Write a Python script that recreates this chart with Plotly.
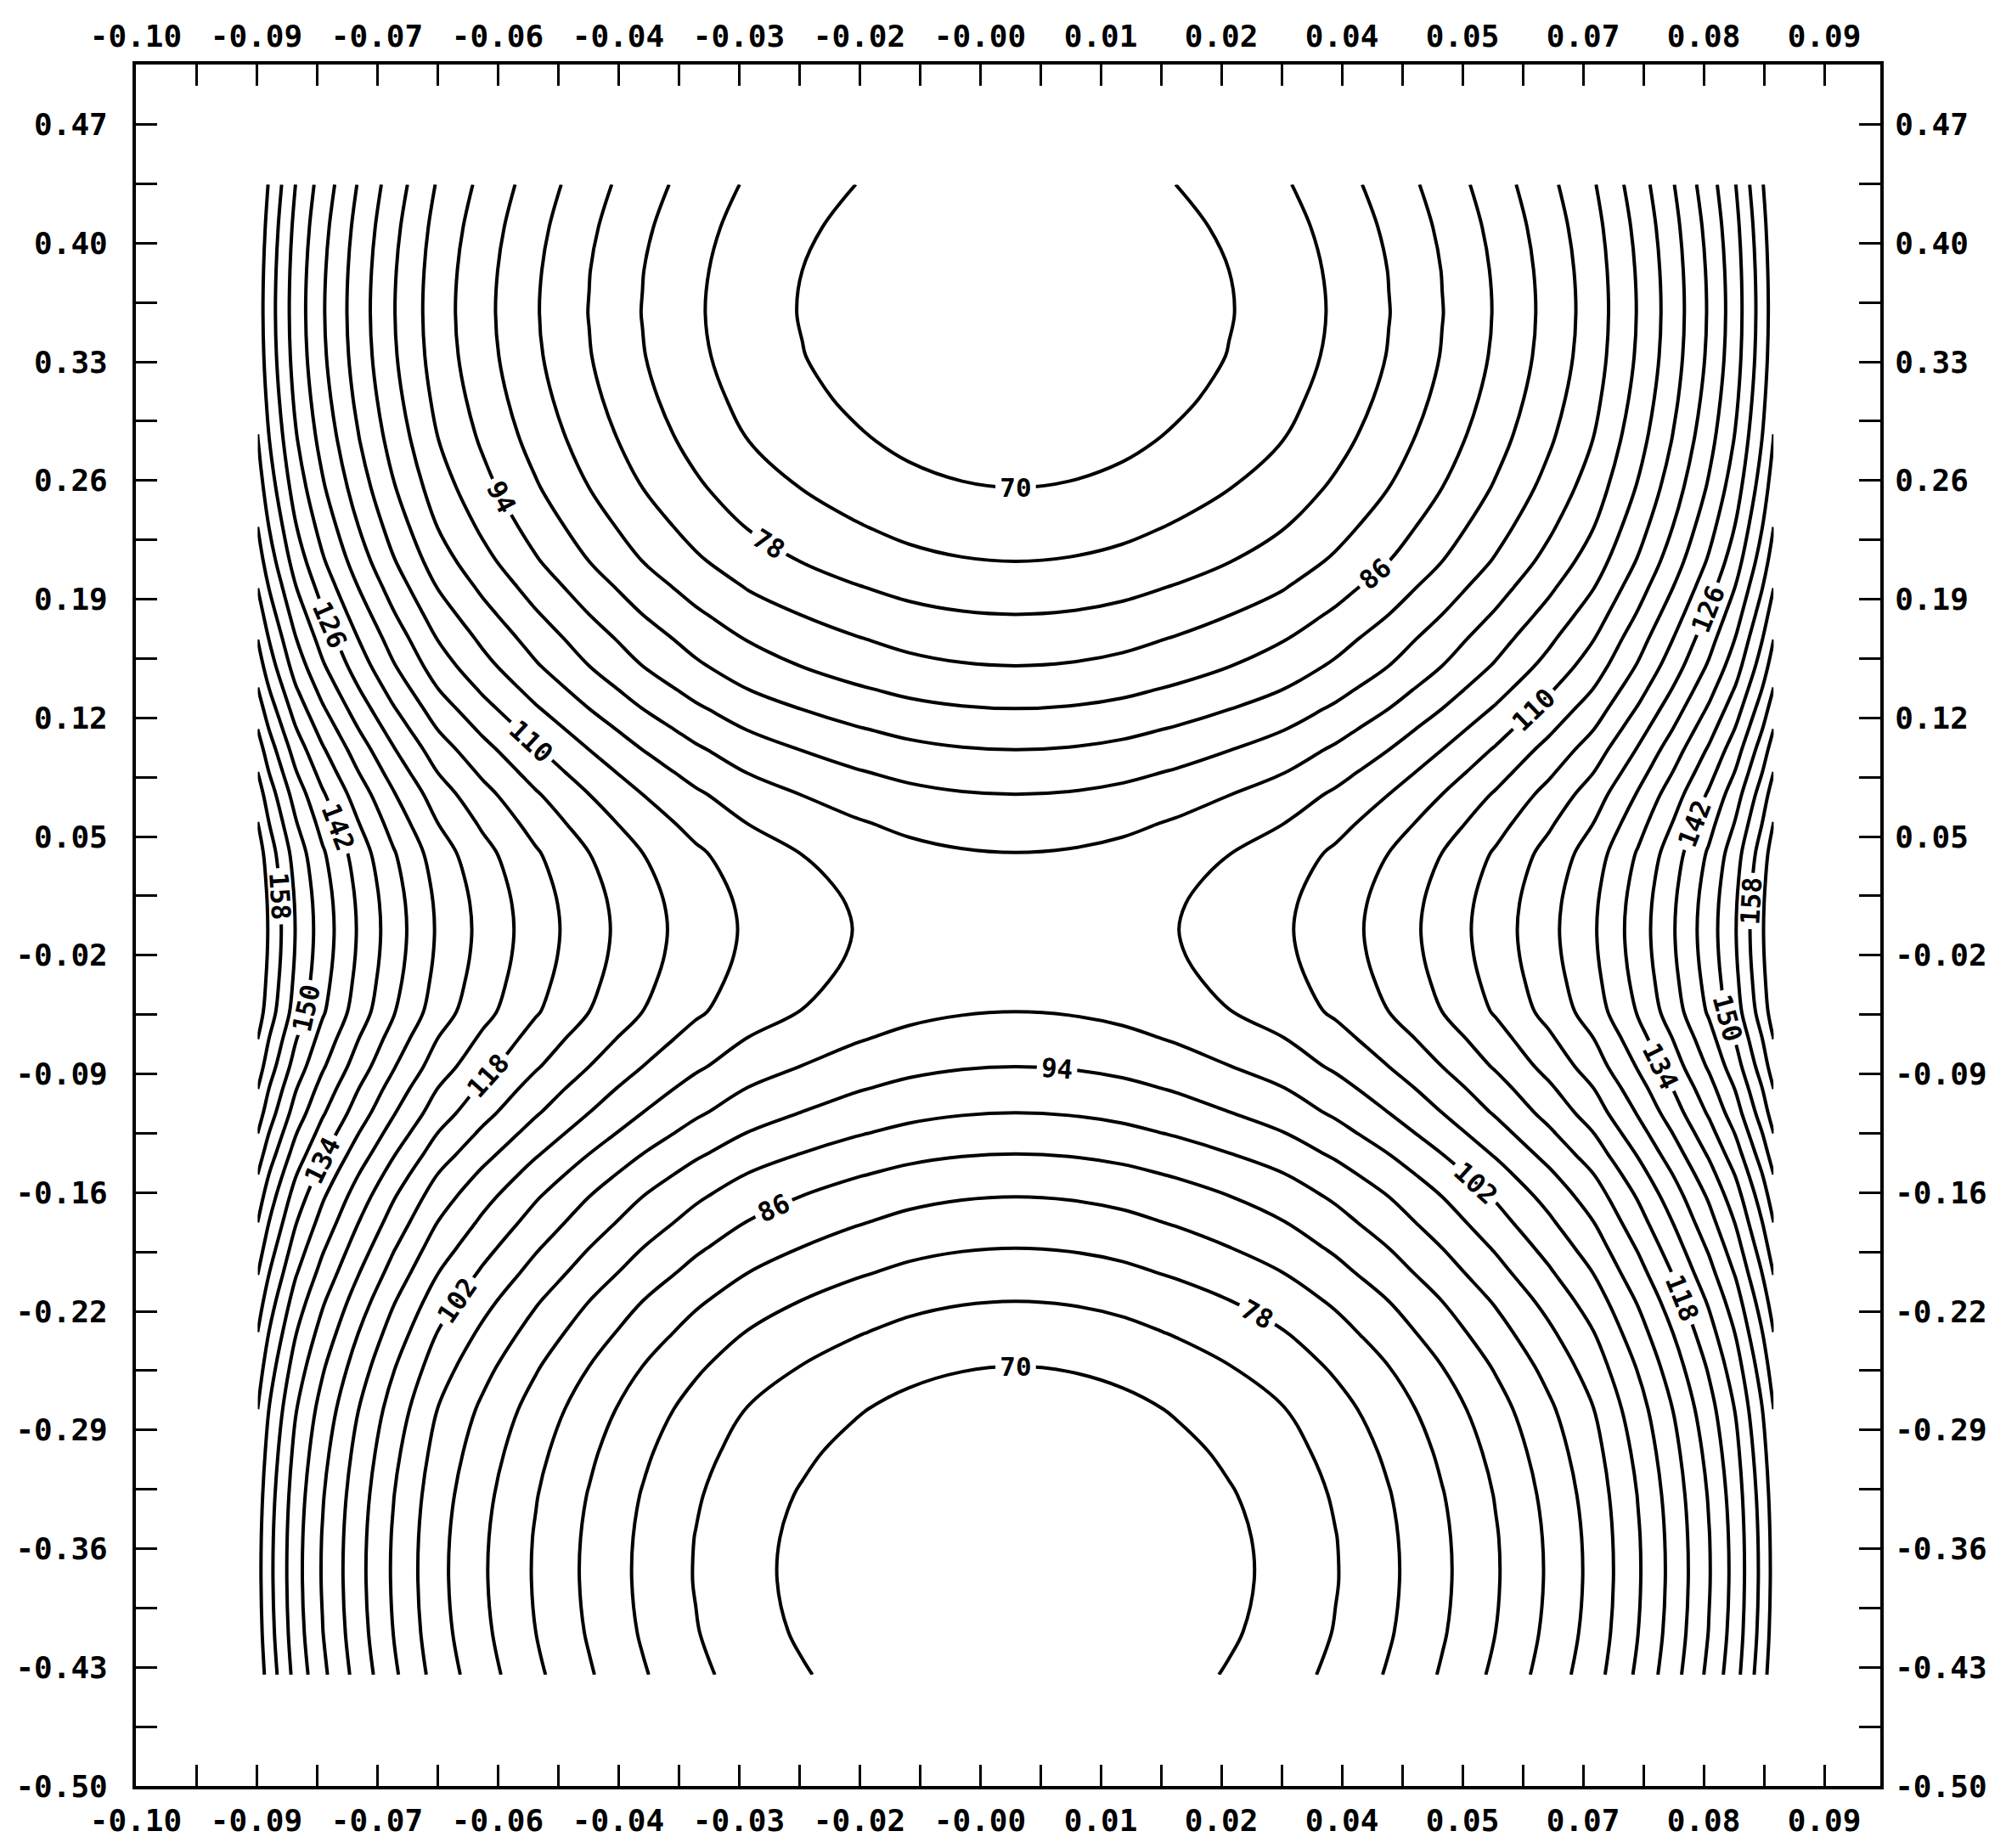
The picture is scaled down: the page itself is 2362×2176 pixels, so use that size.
import numpy as np
import plotly.graph_objects as go

# ---- data -----------------------------------------------------------------
# centre line of the pattern and the horizontal profile: extra value added
# at distance |x - x_centre| from that line
x_centre = -0.001
x_half = [0.0, 0.006, 0.012, 0.018, 0.024, 0.030, 0.036, 0.042, 0.048, 0.054,
          0.060, 0.065, 0.070, 0.074, 0.078, 0.081, 0.084, 0.0853]
x_rise = [0.0, 0.25, 1.0, 2.3, 3.9, 5.8, 8.6, 12.0, 16.0, 20.4,
          25.3, 29.9, 36.3, 42.1, 48.5, 54.2, 61.9, 66.0]

# vertical profile along the centre line
y_grid = [-0.435, -0.41, -0.38, -0.355, -0.33, -0.305, -0.28, -0.255, -0.235, -0.217,
          -0.20, -0.186, -0.171, -0.156, -0.143, -0.131, -0.119, -0.107, -0.093, -0.080,
          -0.064, -0.048, -0.03, -0.015, 0.0, 0.015, 0.03, 0.045, 0.062, 0.079,
          0.092, 0.105, 0.117, 0.129, 0.14, 0.154, 0.17, 0.184, 0.20, 0.215,
          0.235, 0.258, 0.285, 0.31, 0.335, 0.36, 0.385, 0.41, 0.435]
y_base = [66.4, 65.6, 65.2, 65.3, 65.8, 66.7, 68.0, 70.0, 72.0, 74.0,
          76.2, 78.0, 80.0, 82.0, 84.0, 86.0, 88.0, 90.0, 92.0, 94.0,
          96.0, 98.0, 98.9, 99.4, 99.6, 99.4, 98.85, 98.0, 96.1, 94.0,
          92.0, 90.0, 88.0, 86.0, 84.2, 82.0, 79.9, 78.0, 75.9, 74.0,
          72.0, 70.0, 68.2, 67.0, 66.2, 65.9, 66.1, 66.7, 67.7]

x_tick_labels = ["-0.10", "-0.09", "-0.07", "-0.06", "-0.04", "-0.03", "-0.02", "-0.00",
                 "0.01", "0.02", "0.04", "0.05", "0.07", "0.08", "0.09"]
y_tick_labels = ["-0.50", "-0.43", "-0.36", "-0.29", "-0.22", "-0.16", "-0.09", "-0.02",
                 "0.05", "0.12", "0.19", "0.26", "0.33", "0.40", "0.47"]

# ---- build grid ---------------------------------------------------------------
x_full = [x_centre - v for v in reversed(x_half[1:])] + [x_centre + v for v in x_half]
g_full = list(reversed(x_rise[1:])) + x_rise
z = np.add.outer(np.array(y_base), np.array(g_full))

xt = [-0.10 + k * 0.19 / 14 for k in range(15)]
xm = [(a + b) / 2 for a, b in zip(xt[:-1], xt[1:])]
yt = [-0.50 + k * 0.97 / 14 for k in range(15)]
ym = [(a + b) / 2 for a, b in zip(yt[:-1], yt[1:])]

FONT = "DejaVu Sans Mono"
tickfont = dict(family=FONT, size=36, color="black", weight="bold")

fig = go.Figure()
common = dict(x=x_full, y=y_grid, z=z, showscale=False,
              colorscale=[[0, "black"], [1, "black"]],
              line=dict(width=4, smoothing=1.0), hoverinfo="skip",
              autocontour=False)
fig.add_trace(go.Contour(**common, contours=dict(
    coloring="lines", start=70, end=166, size=8, showlabels=True,
    labelfont=dict(family=FONT, size=31, color="black", weight="bold"))))
fig.add_trace(go.Contour(**common, contours=dict(
    coloring="lines", start=74, end=170, size=8, showlabels=False)))
fig.add_trace(go.Scatter(x=[], y=[], xaxis="x2", yaxis="y2", showlegend=False))

def axis(vals, minor_vals, labels, rng, **kw):
    d = dict(range=rng, tickvals=vals, ticktext=labels, ticks="inside", ticklen=25,
             tickwidth=3, tickcolor="black", showline=True, linewidth=4,
             linecolor="black", showgrid=False, zeroline=False, tickfont=tickfont,
             minor=dict(tickvals=minor_vals, ticks="inside", ticklen=25, tickwidth=3,
                        tickcolor="black"))
    d.update(kw)
    return d

xr = [-0.10, 0.0963]
yr = [-0.50, 0.505]
fig.update_layout(
    width=2362, height=2176,
    margin=dict(l=160, r=148, t=76, b=63),
    plot_bgcolor="white", paper_bgcolor="white", showlegend=False,
    xaxis=axis(xt, xm, x_tick_labels, xr, ticklabelstandoff=6),
    yaxis=axis(yt, ym, y_tick_labels, yr, ticklabelstandoff=22),
    xaxis2=axis(xt, xm, x_tick_labels, xr, side="top", overlaying="x", anchor="y2",
                ticklabelstandoff=3),
    yaxis2=axis(yt, ym, y_tick_labels, yr, side="right", overlaying="y", anchor="x2",
                ticklabelstandoff=6),
)

fig.write_html("out.html", config={"displayModeBar": False},
               post_script="document.body.style.margin='0';")
